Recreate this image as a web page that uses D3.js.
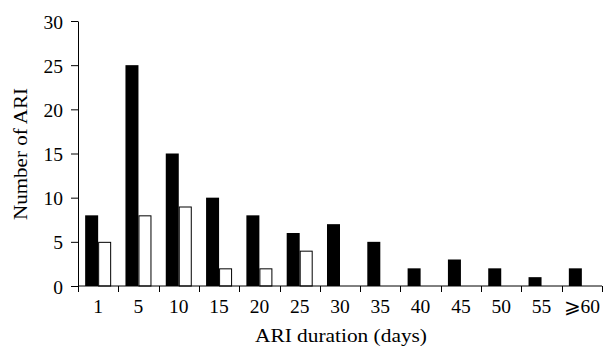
<!DOCTYPE html>
<html lang="en">
<head>
<meta charset="UTF-8">
<title>ARI duration</title>
<script src="https://cdn.jsdelivr.net/npm/d3@7"></script>
<style>
  body { margin: 0; background: #fff; }
  text { font-family: "Liberation Serif", "Times New Roman", serif; fill: #000; }
</style>
</head>
<body>
<script>
// categories (ARI duration, days) and counts
var durations = ["1", "5", "10", "15", "20", "25", "30", "35", "40", "45", "50", "55", "\u2a7e60"];
var blackCounts = [8, 25, 15, 10, 8, 6, 7, 5, 2, 3, 2, 1, 2];
var whiteCounts = [5, 8, 9, 2, 2, 4, 0, 0, 0, 0, 0, 0, 0];
var yTicks = [0, 5, 10, 15, 20, 25, 30];

var width = 605, height = 346;
var margin = { left: 78, right: 3, top: 21, bottom: 60 };
var fs = "19.5px";

var svg = d3.select("body").append("svg")
    .attr("width", width)
    .attr("height", height);

var x = d3.scaleBand()
    .domain(durations)
    .range([margin.left, width - margin.right]);

var inner = d3.scaleBand()
    .domain(["black", "white"])
    .range([0, x.bandwidth()])
    .paddingOuter(0.55)
    .paddingInner(0);

var y = d3.scaleLinear()
    .domain([0, 30])
    .range([height - margin.bottom, margin.top]);

var rows = durations.map(function (d, i) {
    return { cat: d, black: blackCounts[i], white: whiteCounts[i] };
});

var groups = svg.append("g").selectAll("g")
    .data(rows)
    .enter().append("g")
    .attr("transform", function (d) { return "translate(" + x(d.cat) + ",0)"; });

groups.append("rect")
    .attr("x", inner("black"))
    .attr("y", function (d) { return y(d.black); })
    .attr("width", inner.bandwidth())
    .attr("height", function (d) { return y(0) - y(d.black); })
    .attr("fill", "#000");

groups.filter(function (d) { return d.white > 0; })
    .append("rect")
    .attr("x", inner("white") + 0.5)
    .attr("y", function (d) { return y(d.white) + 0.5; })
    .attr("width", inner.bandwidth() - 1)
    .attr("height", function (d) { return y(0) - y(d.white) - 0.5; })
    .attr("fill", "#fff")
    .attr("stroke", "#000")
    .attr("stroke-width", 1);

// y axis
var yAxis = svg.append("g")
    .attr("transform", "translate(" + margin.left + ",0)")
    .call(d3.axisLeft(y).tickValues(yTicks).tickSize(7).tickSizeOuter(0).tickPadding(8));
yAxis.selectAll("text").style("font-size", fs).attr("dy", "0.36em");

// x axis with ticks at band boundaries
var xAxis = svg.append("g")
    .attr("transform", "translate(0," + y(0) + ")");
xAxis.append("line")
    .attr("x1", margin.left).attr("x2", width - margin.right)
    .attr("stroke", "#000");
var edges = durations.map(function (d) { return x(d); }).concat([x.range()[1]]);
xAxis.selectAll("line.tick")
    .data(edges)
    .enter().append("line")
    .attr("class", "tick")
    .attr("x1", function (d) { return Math.round(d) + 0.5; })
    .attr("x2", function (d) { return Math.round(d) + 0.5; })
    .attr("y1", 0).attr("y2", 6)
    .attr("stroke", "#000");
xAxis.selectAll("text.lab")
    .data(durations)
    .enter().append("text")
    .attr("class", "lab")
    .attr("x", function (d) { return x(d) + x.bandwidth() / 2; })
    .attr("y", 27)
    .attr("text-anchor", "middle")
    .style("font-size", fs)
    .text(function (d) { return d; });

svg.selectAll(".domain").attr("stroke", "#000");

svg.append("text")
    .attr("x", 255)
    .attr("y", 342)
    .attr("textLength", 172)
    .attr("lengthAdjust", "spacingAndGlyphs")
    .style("font-size", fs)
    .text("ARI duration (days)");

svg.append("text")
    .attr("transform", "translate(27,220) rotate(-90)")
    .attr("textLength", 132)
    .attr("lengthAdjust", "spacingAndGlyphs")
    .style("font-size", fs)
    .text("Number of ARI");
</script>
</body>
</html>
